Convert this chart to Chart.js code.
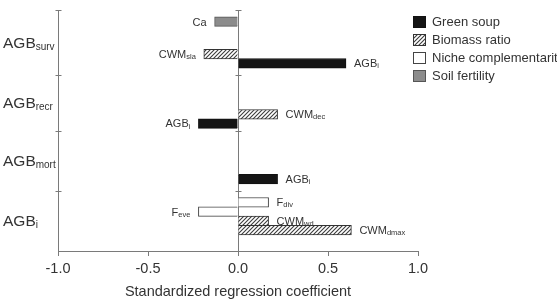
<!DOCTYPE html>
<html>
<head>
<meta charset="utf-8">
<script src="https://cdn.jsdelivr.net/npm/chart.js@4.4.1/dist/chart.umd.min.js"></script>
<style>
  html, body { margin: 0; padding: 0; background: #fff; }
</style>
</head>
<body>
<canvas id="myChart" width="557" height="299"></canvas>
<script>
// response blocks on the y axis, top to bottom ("_" starts a subscript)
const responses = ['AGB_surv', 'AGB_recr', 'AGB_mort', 'AGB_i'];
// one entry per bar
const predictors = ['Ca', 'CWM_sla', 'AGB_i', 'CWM_dec', 'AGB_i', 'AGB_i', 'F_div', 'F_eve', 'CWM_wd', 'CWM_dmax'];
const predictorResponse = [0, 0, 0, 1, 1, 2, 3, 3, 3, 3];
const hypotheses = ['Green soup', 'Biomass ratio', 'Niche complementarity', 'Soil fertility'];
const predictorHypothesis = [3, 1, 0, 1, 0, 0, 2, 2, 1, 1];
const coefficients = [-0.13, -0.19, 0.60, 0.22, -0.22, 0.22, 0.17, -0.22, 0.17, 0.63];
const xTicks = [-1.0, -0.5, 0.0, 0.5, 1.0];

// layout: half-rows per block, and the half-row each bar sits on inside its block
const blockRows = [14, 12, 13, 13];
const barRow = [2, 9, 11, 8, 10, 10, 2, 4, 6, 8];

const FONT = '"Liberation Sans", Arial, sans-serif';
const AXIS = '#7a7a7a';
const TEXT = '#333';

const blockStart = [];
let n = 0;
blockRows.forEach(r => { blockStart.push(n); n += r; });
const labels = Array.from({length: n}, (_, i) => 'r' + i);
const barSlot = predictors.map((p, i) => blockStart[predictorResponse[i]] + barRow[i]);

function makeHatch() {
  const c = document.createElement('canvas');
  c.width = 4; c.height = 4;
  const g = c.getContext('2d');
  g.fillStyle = '#fff';
  g.fillRect(0, 0, 4, 4);
  g.strokeStyle = '#3c3c3c';
  g.lineWidth = 1.1;
  g.beginPath();
  g.moveTo(-1, 5); g.lineTo(5, -1);
  g.moveTo(-1, 1); g.lineTo(1, -1);
  g.moveTo(3, 5); g.lineTo(5, 3);
  g.stroke();
  return g.createPattern(c, 'repeat');
}

const fills = ['#151515', makeHatch(), '#ffffff', '#8c8c8c'];
const borders = ['#111', '#333', '#444', '#555'];

const datasets = hypotheses.map((h, k) => {
  const data = Array(n).fill(null);
  predictors.forEach((p, i) => { if (predictorHypothesis[i] === k) data[barSlot[i]] = coefficients[i]; });
  return { label: h, data, backgroundColor: fills[k], borderColor: borders[k], borderWidth: 1 };
});

function drawSub(ctx, text, x, y, size, subSize, align) {
  const [main, sub] = text.split('_');
  ctx.font = size + 'px ' + FONT;
  const wMain = ctx.measureText(main).width;
  let wSub = 0;
  if (sub) { ctx.font = subSize + 'px ' + FONT; wSub = ctx.measureText(sub).width; }
  const x0 = align === 'right' ? x - wMain - wSub : x;
  const base = y + size * 0.358;
  ctx.textAlign = 'left';
  ctx.textBaseline = 'alphabetic';
  ctx.font = size + 'px ' + FONT;
  ctx.fillText(main, x0, base);
  if (sub) {
    ctx.font = subSize + 'px ' + FONT;
    ctx.fillText(sub, x0 + wMain, base + size * 0.1);
  }
}

const decorations = {
  id: 'decorations',
  afterDraw(chart) {
    const {ctx, scales: {x, y}, chartArea} = chart;
    const x0 = Math.round(x.getPixelForValue(0)) + 0.5;
    const xl = Math.round(chartArea.left) + 0.5;
    ctx.save();
    // block boundary ticks on the axis and on the zero line
    ctx.strokeStyle = AXIS;
    ctx.lineWidth = 1;
    ctx.beginPath();
    blockStart.forEach(b => {
      const py = Math.round(y.getPixelForValue(b - 0.5)) + 0.5;
      [xl, x0].forEach(px => { ctx.moveTo(px - 3, py); ctx.lineTo(px + 3, py); });
    });
    ctx.stroke();
    // block labels
    ctx.fillStyle = TEXT;
    responses.forEach((r, k) => {
      const py = y.getPixelForValue(blockStart[k] + blockRows[k] / 2 - 0.5);
      drawSub(ctx, r, 3, py, 15.5, 10, 'left');
    });
    // bar labels
    predictors.forEach((p, i) => {
      const px = x.getPixelForValue(coefficients[i]);
      const py = y.getPixelForValue(barSlot[i]);
      if (coefficients[i] < 0) drawSub(ctx, p, px - 8, py, 11, 7.5, 'right');
      else drawSub(ctx, p, px + 8, py, 11, 7.5, 'left');
    });
    // legend
    hypotheses.forEach((h, k) => {
      const cy = 22 + k * 18;
      ctx.fillStyle = fills[k];
      ctx.fillRect(413, cy - 6, 13, 12);
      ctx.strokeStyle = borders[k];
      ctx.strokeRect(413.5, cy - 5.5, 12, 11);
      ctx.fillStyle = TEXT;
      ctx.font = '13px ' + FONT;
      ctx.textAlign = 'left';
      ctx.textBaseline = 'middle';
      ctx.fillText(h, 432, cy + 0.5);
    });
    ctx.restore();
  }
};

const config = {
  type: 'bar',
  data: { labels, datasets },
  options: {
    indexAxis: 'y',
    responsive: false,
    animation: false,
    layout: { padding: { left: 58, right: 139, top: 10, bottom: 0 } },
    datasets: { bar: { grouped: false, barThickness: 9.6 } },
    plugins: { legend: { display: false }, tooltip: { enabled: false } },
    scales: {
      x: {
        min: -1, max: 1,
        afterBuildTicks: s => { s.ticks = xTicks.map(v => ({ value: v })); },
        ticks: { callback: v => v.toFixed(1), font: { family: FONT, size: 14.5 }, color: TEXT, padding: 4, maxRotation: 0 },
        grid: {
          color: c => (c.tick && c.tick.value === 0 ? AXIS : 'rgba(0,0,0,0)'),
          tickColor: AXIS, tickLength: 5
        },
        border: { color: AXIS },
        title: {
          display: true, text: 'Standardized regression coefficient',
          font: { family: FONT, size: 14.5 }, color: TEXT, padding: { top: 0, bottom: -2 }
        },
        afterFit: s => { s.height = 48; }
      },
      y: {
        ticks: { display: false },
        grid: { drawOnChartArea: false, drawTicks: false },
        border: { color: AXIS },
        afterFit: s => { s.width = 0; }
      }
    }
  },
  plugins: [decorations]
};

const ctx = document.getElementById('myChart').getContext('2d');
new Chart(ctx, config);
</script>
</body>
</html>
